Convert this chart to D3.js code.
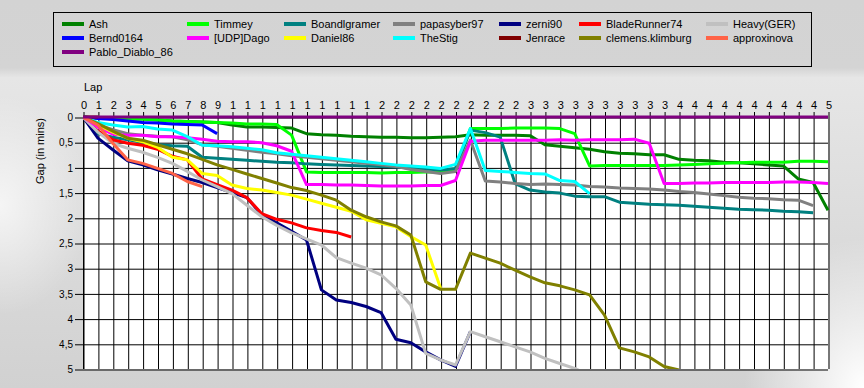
<!DOCTYPE html>
<html>
<head>
<meta charset="utf-8">
<script src="https://cdnjs.cloudflare.com/ajax/libs/d3/7.8.5/d3.min.js"></script>
<style>
  html, body { margin: 0; padding: 0; background: #d4d4d4; }
  svg { display: block; font-family: "Liberation Sans", Arial, sans-serif; }
</style>
</head>
<body>
<script>
// gap to leader in minutes, one value per lap starting at lap 0
const ash = [0, 0.02, 0.03, 0.04, 0.04, 0.06, 0.08, 0.09, 0.1, 0.11,
  0.16, 0.2, 0.2, 0.21, 0.22, 0.33, 0.35, 0.36, 0.38, 0.39,
  0.4, 0.4, 0.41, 0.41, 0.4, 0.39, 0.35, 0.36, 0.36, 0.36,
  0.37, 0.55, 0.58, 0.61, 0.64, 0.69, 0.72, 0.73, 0.75, 0.75,
  0.84, 0.86, 0.87, 0.9, 0.91, 0.93, 0.95, 0.97, 1.23, 1.3, 1.85]
const timmey = [0, 0.02, 0.03, 0.04, 0.04, 0.06, 0.08, 0.09, 0.1, 0.11,
  0.12, 0.14, 0.14, 0.15, 0.36, 1.09, 1.1, 1.1, 1.1, 1.1,
  1.11, 1.1, 1.1, 1.09, 1.09, 1.03, 0.23, 0.23, 0.23, 0.22,
  0.22, 0.22, 0.23, 0.33, 0.97, 0.96, 0.96, 0.96, 0.96, 0.96,
  0.95, 0.94, 0.93, 0.92, 0.91, 0.9, 0.9, 0.9, 0.88, 0.88, 0.89]
const boandlgramer = [0, 0.33, 0.4, 0.45, 0.5, 0.55, 0.57, 0.58, 0.8, 0.82,
  0.84, 0.86, 0.88, 0.9, 0.91, 0.93, 0.94, 0.95, 0.96, 0.97,
  0.98, 0.99, 1.01, 1.03, 1.05, 1.02, 0.26, 0.31, 0.4, 1.32,
  1.45, 1.49, 1.51, 1.57, 1.58, 1.58, 1.69, 1.71, 1.73, 1.74,
  1.75, 1.77, 1.79, 1.81, 1.83, 1.84, 1.85, 1.87, 1.88, 1.9]
const papasyber97 = [0, 0.15, 0.25, 0.33, 0.36, 0.38, 0.39, 0.45, 0.55, 0.58,
  0.62, 0.66, 0.7, 0.73, 0.77, 0.8, 0.83, 0.86, 0.89, 0.92,
  0.95, 0.98, 1.04, 1.08, 1.12, 1.08, 0.46, 1.27, 1.29, 1.32,
  1.34, 1.33, 1.34, 1.35, 1.38, 1.39, 1.41, 1.42, 1.43, 1.45,
  1.48, 1.5, 1.53, 1.56, 1.59, 1.61, 1.62, 1.64, 1.65, 1.76]
const zerni90 = [0, 0.42, 0.65, 0.87, 0.95, 1.05, 1.13, 1.22, 1.3, 1.4,
  1.5, 1.6, 1.94, 2.1, 2.27, 2.44, 3.43, 3.63, 3.68, 3.76,
  3.88, 4.41, 4.48, 4.66, 4.82, 4.95, 4.26]
const bladeRunner74 = [0, 0.28, 0.45, 0.52, 0.56, 0.64, 0.78, 0.85, 1.23, 1.34,
  1.45, 1.6, 1.92, 2.03, 2.1, 2.2, 2.25, 2.29, 2.38]
const heavyGer = [0, 0.3, 0.52, 0.62, 0.7, 0.8, 0.92, 1.08, 1.25, 1.38,
  1.52, 1.75, 1.98, 2.15, 2.3, 2.42, 2.54, 2.79, 2.9, 3.0,
  3.13, 3.4, 3.73, 4.69, 4.82, 4.92, 4.26, 4.36, 4.46, 4.56,
  4.66, 4.79, 4.89, 4.99, 5.12]
const bernd0164 = [0, 0.03, 0.05, 0.08, 0.11, 0.12, 0.14, 0.15, 0.16, 0.33]
const udpDago = [0, 0.2, 0.34, 0.36, 0.36, 0.39, 0.39, 0.41, 0.44, 0.48,
  0.49, 0.49, 0.51, 0.57, 0.68, 1.34, 1.34, 1.35, 1.35, 1.36,
  1.37, 1.37, 1.37, 1.36, 1.36, 1.26, 0.48, 0.46, 0.46, 0.46,
  0.46, 0.46, 0.45, 0.46, 0.45, 0.45, 0.45, 0.44, 0.52, 1.32,
  1.32, 1.31, 1.31, 1.3, 1.3, 1.3, 1.3, 1.29, 1.29, 1.3, 1.32]
const daniel86 = [0, 0.15, 0.3, 0.42, 0.49, 0.6, 0.8, 0.85, 1.12, 1.16,
  1.35, 1.42, 1.45, 1.5, 1.55, 1.63, 1.71, 1.79, 1.87, 2.04,
  2.11, 2.18, 2.37, 2.54, 3.4]
const theStig = [0, 0.11, 0.16, 0.2, 0.19, 0.24, 0.26, 0.39, 0.56, 0.57,
  0.59, 0.62, 0.65, 0.71, 0.74, 0.77, 0.8, 0.83, 0.86, 0.89,
  0.92, 0.95, 0.97, 0.99, 1.02, 0.94, 0.23, 1.06, 1.08, 1.1,
  1.12, 1.13, 1.26, 1.28, 1.52]
const jenrace = [0, 0]
const klimburg = [0, 0.13, 0.28, 0.42, 0.46, 0.55, 0.64, 0.73, 0.84, 0.95,
  1.04, 1.13, 1.22, 1.31, 1.4, 1.46, 1.55, 1.65, 1.85, 1.98,
  2.08, 2.16, 2.34, 3.27, 3.42, 3.42, 2.7, 2.8, 2.9, 3.04,
  3.17, 3.29, 3.35, 3.43, 3.53, 3.93, 4.58, 4.66, 4.76, 4.95, 5.02]
const approxinova = [0, 0.16, 0.52, 0.85, 0.92, 1.02, 1.12, 1.28, 1.38]
const pabloDiablo = [0, 0, 0, 0, 0, 0, 0, 0, 0, 0,
  0, 0, 0, 0, 0, 0, 0, 0, 0, 0,
  0, 0, 0, 0, 0, 0, 0, 0, 0, 0,
  0, 0, 0, 0, 0, 0, 0, 0, 0, 0,
  0, 0, 0, 0, 0, 0, 0, 0, 0, 0, 0]

const drivers = ["Ash", "Timmey", "Boandlgramer", "papasyber97", "zerni90", "BladeRunner74", "Heavy(GER)",
  "Bernd0164", "[UDP]Dago", "Daniel86", "TheStig", "Jenrace", "clemens.klimburg", "approxinova",
  "Pablo_Diablo_86"]
const gaps = [ash, timmey, boandlgramer, papasyber97, zerni90, bladeRunner74, heavyGer,
  bernd0164, udpDago, daniel86, theStig, jenrace, klimburg, approxinova, pabloDiablo]
const colors = ["#008000", "#00ff00", "#008080", "#808080", "#000080", "#ff0000", "#c0c0c0",
  "#0000ff", "#ff00ff", "#ffff00", "#00ffff", "#800000", "#808000", "#ff6347", "#800080"]

const lapTicks = d3.range(0, 51)
const gapTicks = [0, 0.5, 1, 1.5, 2, 2.5, 3, 3.5, 4, 4.5, 5]

const width = 864, height = 388
const plot = { left: 83, top: 117, right: 828, bottom: 369 }

const svg = d3.select("body").append("svg")
    .attr("width", width)
    .attr("height", height)

// background gradients
const defs = svg.append("defs")
const vg = defs.append("linearGradient").attr("id", "bgv")
    .attr("x1", 0).attr("y1", 0).attr("x2", 0).attr("y2", 1)
vg.append("stop").attr("offset", "0").attr("stop-color", "#d3d3d3")
vg.append("stop").attr("offset", "0.175").attr("stop-color", "#d4d4d4")
vg.append("stop").attr("offset", "0.2").attr("stop-color", "#e6e6e6")
vg.append("stop").attr("offset", "1").attr("stop-color", "#d1d1d1")
const rg = defs.append("radialGradient").attr("id", "glowR")
rg.append("stop").attr("offset", "0").attr("stop-color", "#fff").attr("stop-opacity", 1)
rg.append("stop").attr("offset", "1").attr("stop-color", "#fff").attr("stop-opacity", 0)
defs.append("clipPath").attr("id", "plotclip")
  .append("rect")
    .attr("x", plot.left).attr("y", plot.top - 4)
    .attr("width", plot.right - plot.left + 4)
    .attr("height", plot.bottom - plot.top + 4)

svg.append("rect").attr("width", width).attr("height", height).attr("fill", "url(#bgv)")
svg.append("ellipse").attr("cx", 0).attr("cy", 205).attr("rx", 90).attr("ry", 110)
    .attr("fill", "url(#glowR)").attr("opacity", 0.7)
svg.append("ellipse").attr("cx", 864).attr("cy", 388).attr("rx", 120).attr("ry", 150)
    .attr("fill", "url(#glowR)")

const x = d3.scaleLinear().domain([0, 50]).range([plot.left, plot.right])
const y = d3.scaleLinear().domain([0, 5]).range([plot.top, plot.bottom])

svg.append("rect")
    .attr("x", plot.left).attr("y", plot.top)
    .attr("width", plot.right - plot.left).attr("height", plot.bottom - plot.top)
    .attr("fill", "#fff")

// grid + ticks
const xAxis = svg.append("g")
    .attr("transform", "translate(0.5," + plot.top + ")")
    .call(d3.axisTop(x).tickValues(lapTicks).tickSizeInner(-(plot.bottom - plot.top)).tickSizeOuter(0)
      .tickFormat(d => String(d).charAt(0)))
xAxis.select(".domain").remove()
xAxis.selectAll(".tick line").attr("y1", -5).attr("stroke", "#000")
xAxis.selectAll(".tick text").attr("y", -8).attr("font-size", 11)
    .attr("font-family", "Liberation Sans, Arial, sans-serif").attr("fill", "#000")

const yAxis = svg.append("g")
    .attr("transform", "translate(" + plot.left + ",0.5)")
    .call(d3.axisLeft(y).tickValues(gapTicks).tickSizeInner(-(plot.right - plot.left)).tickSizeOuter(0)
      .tickFormat(d => String(d).replace(".", ",")))
yAxis.select(".domain").remove()
yAxis.selectAll(".tick line").attr("x1", -8).attr("stroke", "#000")
yAxis.selectAll(".tick text").attr("x", -10).attr("font-size", 10)
    .attr("font-family", "Liberation Sans, Arial, sans-serif").attr("fill", "#000")

svg.append("line")
    .attr("x1", plot.left + 0.5).attr("x2", plot.left + 0.5)
    .attr("y1", plot.top).attr("y2", plot.bottom)
    .attr("stroke", "#000")

// series
const line = d3.line().x((d, i) => x(i)).y(d => y(d))
svg.append("g").attr("clip-path", "url(#plotclip)")
  .selectAll("path")
  .data(gaps)
  .join("path")
    .attr("d", line)
    .attr("fill", "none")
    .attr("stroke", (d, i) => colors[i])
    .attr("stroke-width", 3)
    .attr("stroke-linejoin", "round")

// axis titles
svg.append("text").attr("x", 84).attr("y", 91).attr("font-size", 11).text("Lap")
svg.append("text")
    .attr("transform", "translate(44,151) rotate(-90)")
    .attr("text-anchor", "middle")
    .attr("font-size", 11)
    .text("Gap (in mins)")

// legend
svg.append("rect")
    .attr("x", 53.5).attr("y", 12.5).attr("width", 758).attr("height", 54)
    .attr("fill", "none").attr("stroke", "#000")
const colX = [62, 187, 284, 393, 499, 579, 706]
const legend = svg.append("g").selectAll("g")
  .data(drivers)
  .join("g")
    .attr("transform", (d, i) => "translate(" + colX[i % 7] + "," + (24 + Math.floor(i / 7) * 14) + ")")
legend.append("line")
    .attr("x1", 0).attr("x2", 22)
    .attr("stroke", (d, i) => colors[i])
    .attr("stroke-width", 4)
legend.append("text")
    .attr("x", 27).attr("dy", "0.35em")
    .attr("font-size", 11)
    .text(d => d)
</script>
</body>
</html>
